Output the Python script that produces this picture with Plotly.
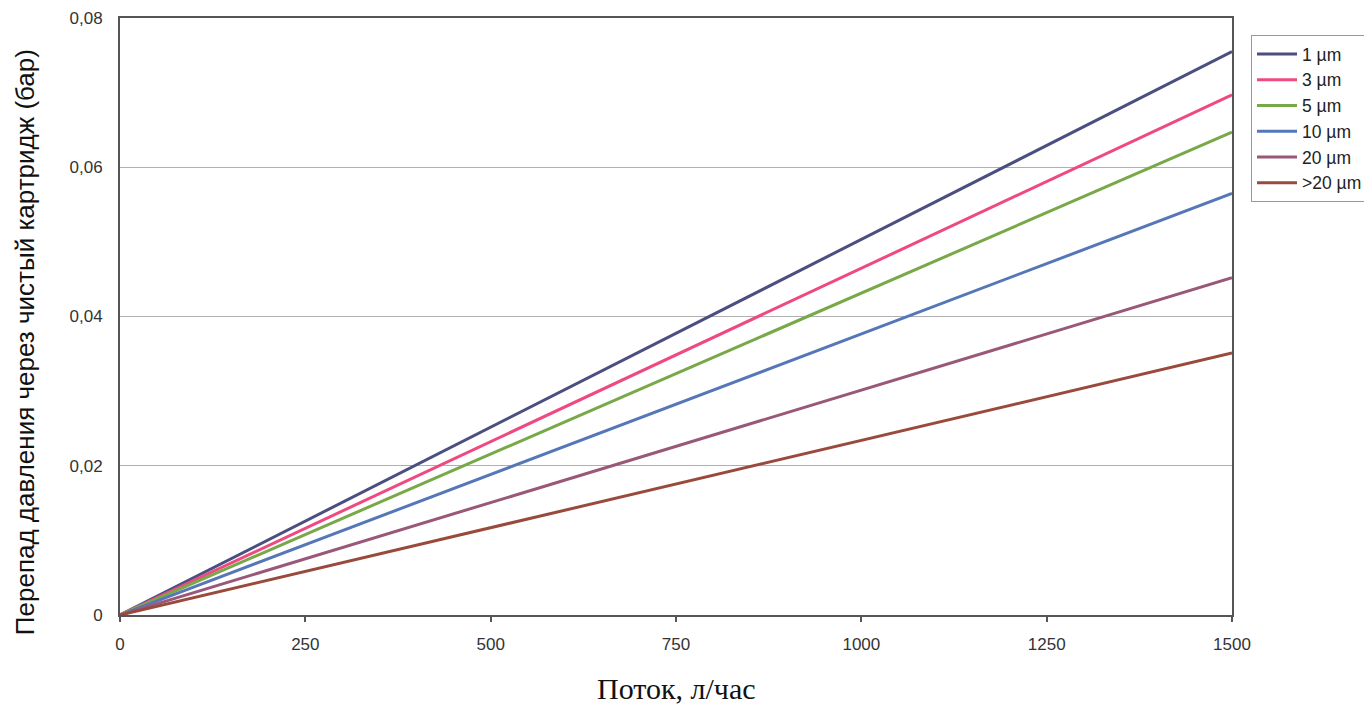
import plotly.graph_objects as go

flow = [0, 1500]
series_names = ["1 µm", "3 µm", "5 µm", "10 µm", "20 µm", ">20 µm"]
series_values = [
    [0, 0.0755],
    [0, 0.0697],
    [0, 0.0647],
    [0, 0.0565],
    [0, 0.0452],
    [0, 0.0351],
]
colors = ["#4b4f80", "#ee4a80", "#78a848", "#5577b8", "#9a5878", "#9a4a3c"]

x_ticks = [0, 250, 500, 750, 1000, 1250, 1500]
y_ticks = [0, 0.02, 0.04, 0.06, 0.08]
y_ticklabels = ["0", "0,02", "0,04", "0,06", "0,08"]

x_title = "Поток, л/час"
y_title = "Перепад давления через чистый картридж (бар)"

fig = go.Figure()
for name, vals, c in zip(series_names, series_values, colors):
    fig.add_trace(go.Scatter(x=flow, y=vals, mode="lines", name=name,
                             line=dict(color=c, width=3)))

fig.update_layout(
    width=1364, height=698,
    margin=dict(l=112, r=140, t=10, b=91, autoexpand=False),
    paper_bgcolor="white", plot_bgcolor="white",
    font=dict(family="Liberation Sans, Arial, sans-serif", color="#222222"),
    showlegend=True,
    legend=dict(x=1.0171, y=0.9715, xanchor="left", yanchor="top",
                bordercolor="#999999", borderwidth=1,
                font=dict(size=17.5, color="#222222"),
                itemwidth=40),
    annotations=[
        dict(text=x_title, xref="paper", yref="paper", x=0.5, y=0,
             xanchor="center", yanchor="middle", yshift=-73, showarrow=False,
             font=dict(family="Liberation Serif, Times New Roman, serif", size=30, color="#111111")),
        dict(text=y_title, xref="paper", yref="paper", x=0, y=0.457,
             xanchor="center", yanchor="middle", xshift=-95, textangle=-90, showarrow=False,
             font=dict(family="Liberation Sans, Arial, sans-serif", size=26, color="#111111")),
    ],
)
fig.update_xaxes(
    range=[0, 1500], tickvals=x_ticks, automargin=False,
    showgrid=False, zeroline=False,
    showline=True, linecolor="#555555", linewidth=2, mirror=True,
    ticks="outside", ticklen=5, tickcolor="#555555", tickwidth=1.5,
    ticklabelstandoff=8,
    tickfont=dict(size=17, color="#333333"),
)
fig.update_yaxes(
    range=[0, 0.08], tickvals=y_ticks, ticktext=y_ticklabels, automargin=False,
    showgrid=True, gridcolor="#b0b0b0", gridwidth=1.2, zeroline=False,
    showline=True, linecolor="#555555", linewidth=2, mirror=True,
    ticks="", ticklabelstandoff=12, tickfont=dict(size=17, color="#333333"),
)

fig.write_html("out.html")
